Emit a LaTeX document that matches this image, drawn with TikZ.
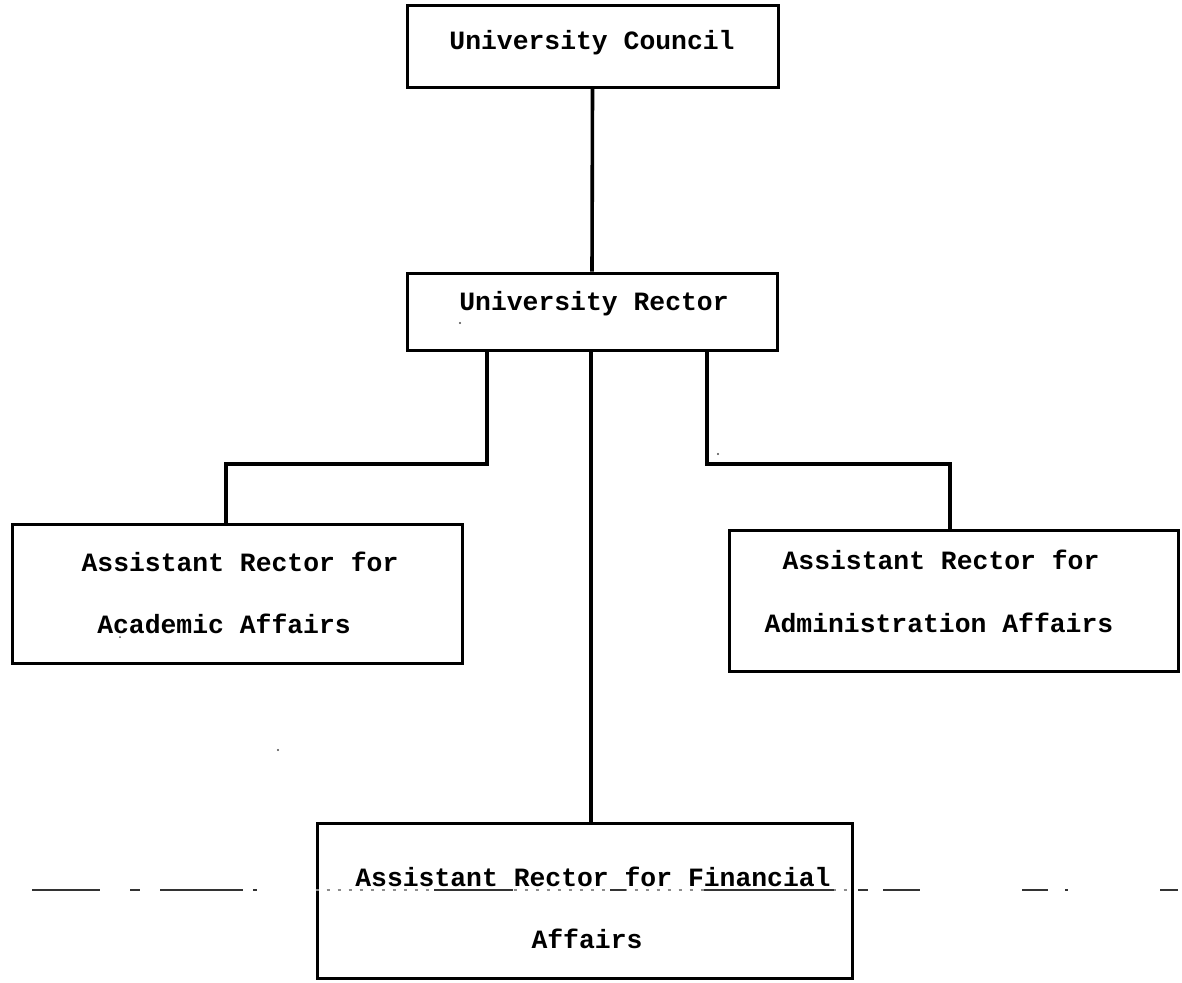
\documentclass[tikz,border=0pt]{standalone}
\usepackage{fontspec}
\setmonofont{Liberation Mono}
\usetikzlibrary{fit}
\begin{document}
\begin{tikzpicture}[x=0.5pt,y=-0.5pt,
  box/.style={draw, line width=1.5pt, inner sep=0pt},
  txt/.style={anchor=base, inner sep=0pt,
    font=\ttfamily\bfseries\fontsize{13.2}{15.8}\selectfont},
  link/.style={line width=1.8pt},
  scan/.style={line width=0.7pt, black!80},
  speck/.style={fill=black!70}]
% page
\path[fill=white] (0,0) rectangle (1182,982);

% boxes
\node[box, fit={(407,5) (778,87)}] (uc) {};
\node[box, fit={(407,273) (777,350)}] (rector) {};
\node[box, fit={(12,524) (462,663)}] (acad) {};
\node[box, fit={(729,530) (1178,671)}] (admin) {};
\node[box, fit={(317,823) (852,978)}] (fin) {};

% typed titles, one node per line
\node[txt] (uct)   at (592,49)  {University Council};
\node[txt] (rect)  at (594,310) {University Rector};
\node[txt] (acad1) at (240,571) {Assistant Rector for};
\node[txt] (acad2) at (224,633) {Academic Affairs};
\node[txt] (adm1)  at (941,569) {Assistant Rector for};
\node[txt] (adm2)  at (939,632) {Administration Affairs};
\node[txt] (fin1)  at (593,886) {Assistant Rector for Financial};
\node[txt] (fin2)  at (587,948) {Affairs};

% junction points of the branches
\coordinate (ljoin) at (487,464);
\coordinate (lfoot) at (226,464);
\coordinate (rjoin) at (707,464);
\coordinate (rfoot) at (950,464);
\coordinate (mid) at (591,350);

% connectors
\draw[link] (uc.south) -- (rector.north);
\draw[link] (rector.south -| ljoin) -- (ljoin) -- (lfoot) -- (acad.north -| lfoot);
\draw[link] (rector.south -| mid) -- (fin.north -| mid);
\draw[link] (rector.south -| rjoin) -- (rjoin) -- (rfoot) -- (admin.north -| rfoot);

% broken rule running across the lower part of the sheet
\foreach \a/\b in {32/100, 130/140, 160/243, 253/257, 858/868, 883/920, 1022/1048, 1065/1068, 1160/1178}
  \draw[scan] (\a,890) -- (\b,890);
\draw[scan, black!45, dash pattern=on 1.5pt off 4pt] (fin.west |- 0,890) -- (fin.east |- 0,890);
\foreach \a/\b in {434/513, 610/626, 704/834}
  \draw[scan] (\a,890) -- (\b,890);

% specks
\fill[speck] (460,323) circle (1.2);
\fill[speck] (718,454) circle (1.2);
\fill[speck] (278,750) circle (1.2);
\fill[speck] (120,637) circle (1);
\end{tikzpicture}
\end{document}
